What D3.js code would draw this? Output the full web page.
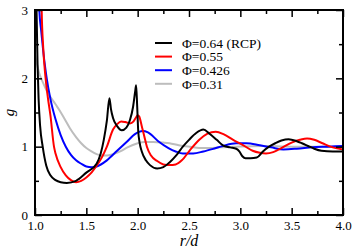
<!DOCTYPE html>
<html>
<head>
<meta charset="utf-8">
<script src="https://cdn.jsdelivr.net/npm/d3@7"></script>
<style>
  body { margin: 0; background: #fff; }
  text { font-family: "Liberation Serif", "Times New Roman", serif; }
</style>
</head>
<body>
<div id="grafico"></div>
<script>
// Datos: pares [r/d, g]
const phi064 = [[1.005, 4], [1.015, 3.0], [1.025, 2.2], [1.035, 1.7], [1.05, 1.3], [1.075, 1.0], [1.11, 0.72],
  [1.15, 0.58], [1.2, 0.51], [1.25, 0.48], [1.31, 0.47], [1.4, 0.5], [1.5, 0.62], [1.6, 0.75], [1.64, 0.9],
  [1.67, 1.1], [1.7, 1.38], [1.725, 1.71], [1.74, 1.55], [1.76, 1.42], [1.8, 1.3], [1.845, 1.24], [1.89, 1.28],
  [1.925, 1.39], [1.955, 1.58], [1.975, 1.8], [1.985, 1.9], [1.995, 1.6], [2.005, 1.24], [2.02, 1.05],
  [2.04, 0.93], [2.08, 0.8], [2.12, 0.73], [2.19, 0.68], [2.25, 0.7], [2.31, 0.77], [2.38, 0.88], [2.44, 1.0],
  [2.5, 1.1], [2.57, 1.2], [2.64, 1.25], [2.7, 1.19], [2.77, 1.1], [2.83, 1.02], [2.9, 0.99], [2.96, 0.97],
  [2.99, 0.93], [3.02, 0.86], [3.05, 0.83], [3.1, 0.83], [3.16, 0.84], [3.22, 0.93], [3.28, 1.0], [3.34, 1.05],
  [3.4, 1.09], [3.47, 1.11], [3.55, 1.08], [3.6, 1.05], [3.66, 1.01], [3.72, 0.97], [3.79, 0.94], [3.9, 0.93],
  [4.0, 0.93]];

const phi055 = [[1.055, 4], [1.065, 3.0], [1.08, 2.45], [1.1, 2.05], [1.125, 1.72], [1.15, 1.46], [1.185, 1.0],
  [1.2, 0.9], [1.25, 0.7], [1.3, 0.58], [1.35, 0.51], [1.4, 0.48], [1.45, 0.5], [1.5, 0.55], [1.55, 0.62],
  [1.6, 0.72], [1.65, 0.84], [1.7, 1.0], [1.76, 1.25], [1.8, 1.33], [1.84, 1.37], [1.88, 1.36], [1.925, 1.34],
  [1.96, 1.37], [1.985, 1.43], [2.0, 1.46], [2.015, 1.44], [2.04, 1.3], [2.065, 1.15], [2.09, 1.0], [2.13, 0.87],
  [2.19, 0.79], [2.25, 0.74], [2.31, 0.73], [2.37, 0.74], [2.43, 0.8], [2.51, 0.95], [2.6, 1.1], [2.68, 1.19],
  [2.76, 1.22], [2.84, 1.18], [2.93, 1.1], [3.03, 1.02], [3.12, 0.94], [3.19, 0.91], [3.25, 0.9], [3.32, 0.92],
  [3.4, 0.98], [3.5, 1.06], [3.58, 1.1], [3.65, 1.12], [3.72, 1.1], [3.8, 1.05], [3.9, 0.99], [4.0, 0.96]];

const phi0426 = [[1.03, 4], [1.042, 3.0], [1.06, 2.7], [1.08, 2.4], [1.1, 2.15], [1.114, 2.0], [1.15, 1.7],
  [1.2, 1.4], [1.25, 1.17], [1.3, 1.0], [1.35, 0.88], [1.4, 0.8], [1.45, 0.75], [1.5, 0.71], [1.55, 0.7],
  [1.6, 0.71], [1.7, 0.8], [1.8, 0.94], [1.9, 1.08], [1.97, 1.18], [2.05, 1.23], [2.1, 1.21], [2.2, 1.08],
  [2.3, 0.98], [2.37, 0.93], [2.44, 0.9], [2.54, 0.9], [2.64, 0.93], [2.74, 0.97], [2.83, 1.01], [2.96, 1.05],
  [3.06, 1.05], [3.19, 1.02], [3.3, 0.99], [3.42, 0.96], [3.55, 0.97], [3.7, 0.99], [3.85, 1.0], [4.0, 1.01]];

const phi031 = [[1.0, 2.35], [1.04, 2.08], [1.08, 1.93], [1.12, 1.8], [1.2, 1.62], [1.24, 1.53], [1.29, 1.4],
  [1.34, 1.27], [1.4, 1.14], [1.45, 1.05], [1.5, 0.98], [1.55, 0.93], [1.6, 0.89], [1.65, 0.87], [1.7, 0.87],
  [1.76, 0.89], [1.83, 0.93], [1.9, 0.99], [2.0, 1.05], [2.07, 1.07], [2.15, 1.07], [2.25, 1.06], [2.31, 1.05],
  [2.4, 1.02], [2.51, 1.0], [2.6, 0.98], [2.7, 0.98], [2.8, 0.99], [2.96, 1.0], [3.2, 1.01], [3.5, 1.0],
  [3.8, 1.0], [4.0, 1.0]];

const etiquetas = ["\u03A6=0.64 (RCP)", "\u03A6=0.55", "\u03A6=0.426", "\u03A6=0.31"];
const colores = ["#000000", "#ff0000", "#0000ff", "#bdbdbd"];
const series = [phi064, phi055, phi0426, phi031];

const xTicks = [1.0, 1.5, 2.0, 2.5, 3.0, 3.5, 4.0];
const xMinor = [1.25, 1.75, 2.25, 2.75, 3.25, 3.75];
const yTicks = [0, 1, 2, 3];
const yMinor = [0.5, 1.5, 2.5];

const ancho = 354, alto = 251;
const mIzq = 35, mDer = 343, mSup = 10, mInf = 215;

const svg = d3.select("#grafico").append("svg")
  .attr("width", ancho)
  .attr("height", alto);

const x = d3.scaleLinear().domain([1, 4]).range([mIzq, mDer]);
const y = d3.scaleLinear().domain([0, 3]).range([mInf, mSup]);

svg.append("clipPath").attr("id", "recorte")
  .append("rect")
  .attr("x", mIzq).attr("y", mSup)
  .attr("width", mDer - mIzq).attr("height", mInf - mSup);

// Curvas
const linea = d3.line()
  .x(d => x(d[0]))
  .y(d => y(d[1]))
  .curve(d3.curveMonotoneX);

svg.append("g").attr("clip-path", "url(#recorte)")
  .selectAll("path")
  .data(series.slice().reverse())
  .enter().append("path")
    .attr("d", linea)
    .attr("fill", "none")
    .attr("stroke", (d, i) => colores[series.length - 1 - i])
    .attr("stroke-width", 2);

// Ejes con marcas hacia dentro
function estilo(g) {
  g.select(".domain").remove();
  g.selectAll("line").attr("stroke", "#000").attr("stroke-width", 1.5);
  g.selectAll("text").attr("font-size", 13).attr("fill", "#000");
}

svg.append("g").attr("transform", `translate(0,${mInf})`)
  .call(d3.axisBottom(x).tickValues(xTicks).tickSize(-7).tickPadding(6).tickFormat(d3.format(".1f")))
  .call(estilo);
svg.append("g").attr("transform", `translate(0,${mInf})`)
  .call(d3.axisBottom(x).tickValues(xMinor).tickSize(-4).tickFormat(""))
  .call(estilo);
svg.append("g").attr("transform", `translate(0,${mSup})`)
  .call(d3.axisTop(x).tickValues(xTicks).tickSize(-7).tickFormat(""))
  .call(estilo);
svg.append("g").attr("transform", `translate(0,${mSup})`)
  .call(d3.axisTop(x).tickValues(xMinor).tickSize(-4).tickFormat(""))
  .call(estilo);

svg.append("g").attr("transform", `translate(${mIzq},0)`)
  .call(d3.axisLeft(y).tickValues(yTicks).tickSize(-7).tickPadding(7).tickFormat(d3.format("d")))
  .call(estilo);
svg.append("g").attr("transform", `translate(${mIzq},0)`)
  .call(d3.axisLeft(y).tickValues(yMinor).tickSize(-4).tickFormat(""))
  .call(estilo);
svg.append("g").attr("transform", `translate(${mDer},0)`)
  .call(d3.axisRight(y).tickValues(yTicks).tickSize(-7).tickFormat(""))
  .call(estilo);
svg.append("g").attr("transform", `translate(${mDer},0)`)
  .call(d3.axisRight(y).tickValues(yMinor).tickSize(-4).tickFormat(""))
  .call(estilo);

// Marco
svg.append("rect")
  .attr("x", mIzq).attr("y", mSup)
  .attr("width", mDer - mIzq).attr("height", mInf - mSup)
  .attr("fill", "none")
  .attr("stroke", "#000")
  .attr("stroke-width", 2);

// Titulos de ejes
svg.append("text")
  .attr("x", (mIzq + mDer) / 2)
  .attr("y", 246)
  .attr("text-anchor", "middle")
  .attr("font-size", 16)
  .attr("font-style", "italic")
  .text("r/d");

svg.append("text")
  .attr("transform", `translate(14,${(mSup + mInf) / 2}) rotate(-90)`)
  .attr("text-anchor", "middle")
  .attr("font-size", 15)
  .attr("font-style", "italic")
  .text("g");

// Leyenda
const leyenda = svg.append("g").selectAll("g")
  .data(etiquetas)
  .enter().append("g")
    .attr("transform", (d, i) => `translate(155,${43 + i * 13.6})`);

leyenda.append("line")
  .attr("x1", 0).attr("x2", 17)
  .attr("stroke", (d, i) => colores[i])
  .attr("stroke-width", 2);

leyenda.append("text")
  .attr("x", 27)
  .attr("dy", "0.35em")
  .attr("font-size", 13.5)
  .text(d => d);
</script>
</body>
</html>
